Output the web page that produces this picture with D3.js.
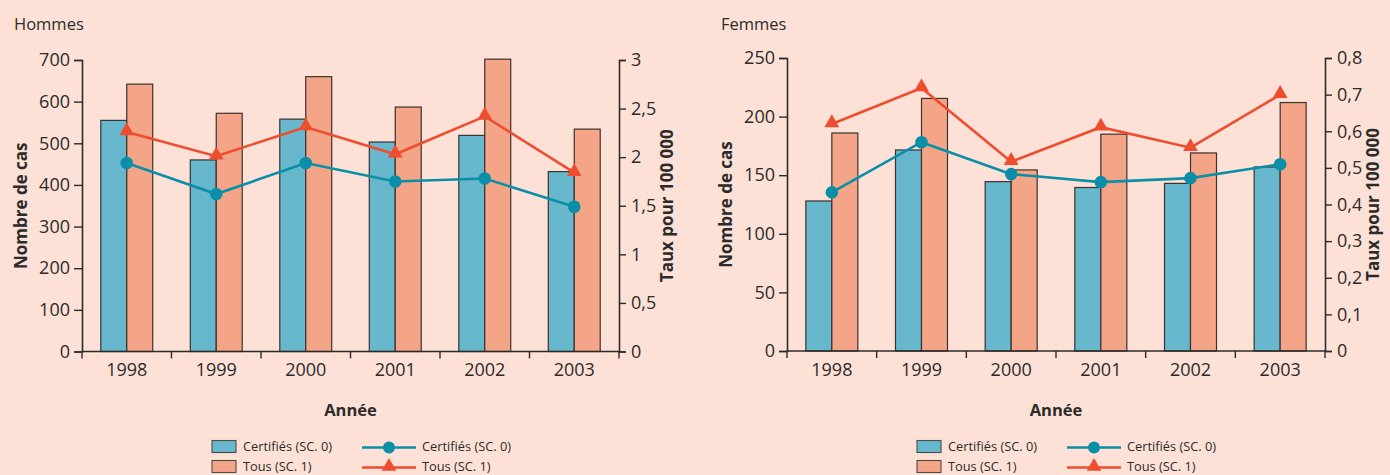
<!DOCTYPE html>
<html><head><meta charset="utf-8">
<script src="https://cdn.jsdelivr.net/npm/d3@7"></script>
<style>
html,body{margin:0;padding:0;background:#fde1d6;}
svg{display:block;font-family:"Open Sans",sans-serif;}
</style></head>
<body><svg id="c" width="1390" height="475"></svg>
<script>
const years = ["1998","1999","2000","2001","2002","2003"];
// Hommes
const hCertCases = [555, 460, 558, 503, 519, 432];
const hAllCases  = [642, 572, 660, 587, 702, 534];
const hCertRate  = [1.94, 1.62, 1.94, 1.75, 1.78, 1.49];
const hAllRate   = [2.26, 2.01, 2.31, 2.03, 2.42, 1.84];
const hLeftTicks = [0,100,200,300,400,500,600,700];
const hRightTicks = [0,0.5,1,1.5,2,2.5,3];
// Femmes
const fCertCases = [128, 171.5, 144.5, 139.5, 143, 157];
const fAllCases  = [186, 215.5, 154.5, 185, 169, 212];
const fCertRate  = [0.433, 0.570, 0.483, 0.461, 0.472, 0.510];
const fAllRate   = [0.620, 0.718, 0.517, 0.611, 0.555, 0.700];
const fLeftTicks = [0,50,100,150,200,250];
const fRightTicks = [0,0.1,0.2,0.3,0.4,0.5,0.6,0.7,0.8];

const legendLabels = ["Certifiés (SC. 0)", "Tous (SC. 1)"];

const C = {bar0:"#67b8cd", bar1:"#f5a587", line0:"#0b8fa8", line1:"#ee4d2e", ink:"#2b2b2b"};
const fmt = d => String(d).replace(".", ",");
const svg = d3.select("#c");

function panel(o){
  const g = svg.append("g");
  const x = d3.scaleBand().domain(years).range([o.x0,o.x1]).paddingInner(0.42).paddingOuter(0.21);
  const xs = d3.scaleBand().domain([0,1]).range([0,x.bandwidth()]);
  const yL = d3.scaleLinear().domain([0,o.leftMax]).range([o.bottom,o.top]);
  const yR = d3.scaleLinear().domain([0,o.rightMax]).range([o.bottom,o.top]);
  const step = x.step();

  // title
  g.append("text").attr("x",o.titleX).attr("y",30).attr("font-size",16.5).attr("fill",C.ink).text(o.title);

  // bars
  [o.cert, o.all].forEach((vals,si)=>{
    g.selectAll(null).data(years).enter().append("rect")
      .attr("x",d=>x(d)+xs(si)).attr("width",xs.bandwidth())
      .attr("y",(d,i)=>yL(vals[i])).attr("height",(d,i)=>o.bottom-yL(vals[i]))
      .attr("fill",si?C.bar1:C.bar0).attr("stroke","#3a3230").attr("stroke-width",1.2);
  });

  const cx = d => x(d)+x.bandwidth()/2;
  // lines
  const lineRate = d3.line().x((d,i)=>cx(years[i])).y(d=>yR(d));
  g.append("path").attr("d",lineRate(o.allRate)).attr("fill","none").attr("stroke",C.line1).attr("stroke-width",2.6);
  g.append("path").attr("d",lineRate(o.certRate)).attr("fill","none").attr("stroke",C.line0).attr("stroke-width",2.6);
  const tri = d3.symbol().type(d3.symbolTriangle).size(95);
  g.selectAll(null).data(o.allRate).enter().append("path")
    .attr("d",tri).attr("transform",(d,i)=>`translate(${cx(years[i])},${yR(d)-1})`).attr("fill",C.line1);
  g.selectAll(null).data(o.certRate).enter().append("circle")
    .attr("cx",(d,i)=>cx(years[i])).attr("cy",d=>yR(d)).attr("r",6.3).attr("fill",C.line0);

  // axes
  const axL = d3.axisLeft(yL).tickValues(o.leftTicks).tickSize(8).tickPadding(4).tickFormat(fmt);
  const gl = g.append("g").attr("transform",`translate(${o.x0},0)`).call(axL);
  const axR = d3.axisRight(yR).tickValues(o.rightTicks).tickSize(7).tickPadding(5).tickFormat(fmt);
  const gr = g.append("g").attr("transform",`translate(${o.x1},0)`).call(axR);
  [gl,gr].forEach(a=>{
    a.select(".domain").attr("stroke",C.ink).attr("stroke-width",1.6);
    a.selectAll(".tick line").attr("stroke",C.ink).attr("stroke-width",1.4);
    a.selectAll(".tick text").attr("font-size",18).attr("fill",C.ink).attr("font-family","Open Sans");
  });
  const xb = d3.axisBottom(x).tickSize(0).tickPadding(12);
  const gx = g.append("g").attr("transform",`translate(0,${o.bottom})`).call(xb);
  gx.select(".domain").attr("stroke",C.ink).attr("stroke-width",1.6).attr("d",`M${o.x0},0H${o.x1}`);
  gx.selectAll(".tick text").attr("font-size",18).attr("fill",C.ink).attr("font-family","Open Sans");
  // boundary ticks
  g.selectAll(null).data(d3.range(years.length+1)).enter().append("line")
    .attr("x1",i=>o.x0+i*step).attr("x2",i=>o.x0+i*step)
    .attr("y1",o.bottom).attr("y2",o.bottom+7).attr("stroke",C.ink).attr("stroke-width",1.4);

  // axis titles
  g.append("text").attr("transform",`translate(${o.x0-55},${(o.top+o.bottom)/2}) rotate(-90)`)
    .attr("text-anchor","middle").attr("font-size",17).attr("font-weight","bold").attr("fill",C.ink).text("Nombre de cas");
  g.append("text").attr("transform",`translate(${o.x1+54},${(o.top+o.bottom)/2}) rotate(-90)`)
    .attr("text-anchor","middle").attr("font-size",17).attr("font-weight","bold").attr("fill",C.ink).text("Taux pour 100 000");
  g.append("text").attr("x",(o.x0+o.x1)/2).attr("y",416).attr("text-anchor","middle")
    .attr("font-size",16.5).attr("font-weight","bold").attr("fill",C.ink).text("Année");

  // legend
  const lx = o.legX;
  legendLabels.forEach((lab,i)=>{
    const yy = 446.5 + i*20;
    g.append("rect").attr("x",lx).attr("y",yy-6).attr("width",24).attr("height",12)
      .attr("fill",i?C.bar1:C.bar0).attr("stroke","#4a4a4a").attr("stroke-width",1.1);
    g.append("text").attr("x",lx+31).attr("y",yy+4.5).attr("font-size",12.8).attr("fill",C.ink).text(lab);
    const l0 = lx+150, l1 = lx+204;
    g.append("line").attr("x1",l0).attr("x2",l1).attr("y1",yy+1).attr("y2",yy+1)
      .attr("stroke",i?C.line1:C.line0).attr("stroke-width",2.4);
    if(i===0){
      g.append("circle").attr("cx",(l0+l1)/2).attr("cy",yy+1).attr("r",6).attr("fill",C.line0);
    } else {
      g.append("path").attr("d",tri).attr("transform",`translate(${(l0+l1)/2},${yy})`).attr("fill",C.line1);
    }
    g.append("text").attr("x",l1+6).attr("y",yy+4.5).attr("font-size",12.8).attr("fill",C.ink).text(lab);
  });
}

panel({title:"Hommes", titleX:14, x0:82, x1:619, top:60, bottom:351.5, leftMax:700, rightMax:3,
  cert:hCertCases, all:hAllCases, certRate:hCertRate, allRate:hAllRate,
  leftTicks:hLeftTicks, rightTicks:hRightTicks, legX:212});
panel({title:"Femmes", titleX:721, x0:787, x1:1325, top:58, bottom:351, leftMax:250, rightMax:0.8,
  cert:fCertCases, all:fAllCases, certRate:fCertRate, allRate:fAllRate,
  leftTicks:fLeftTicks, rightTicks:fRightTicks, legX:917});
</script></body></html>
